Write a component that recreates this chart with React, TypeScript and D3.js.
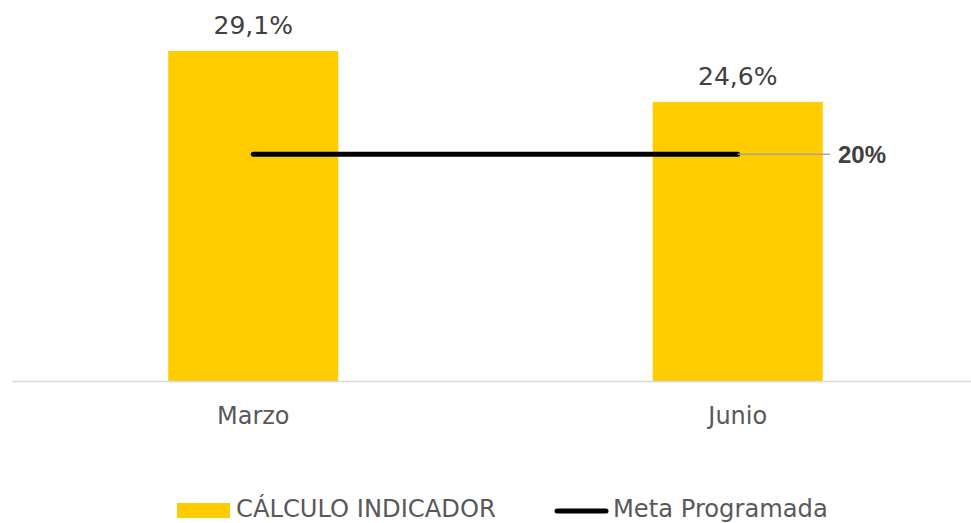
import React from "react";
import * as d3 from "d3";

const categories = ["Marzo", "Junio"];
const indicadorValues = [29.1, 24.6];
const metaValues = [20, 20];
const barLabels = ["29,1%", "24,6%"];
const metaLabel = "20%";
const legendLabels = ["CÁLCULO INDICADOR", "Meta Programada"];

const W = 971;
const H = 523;

export default function App() {
  const x = d3
    .scaleBand<string>()
    .domain(categories)
    .range([11, 980])
    .paddingInner(0.649)
    .paddingOuter(0.3245);
  const y = d3.scaleLinear().domain([0, 30]).range([381, 40.8]);
  const cx = (c: string) => (x(c) as number) + x.bandwidth() / 2;
  const line = d3
    .line<number>()
    .x((_, i) => cx(categories[i]))
    .y((d) => y(d));
  const lastIdx = categories.length - 1;
  const font = "'DejaVu Sans', Verdana, sans-serif";

  return (
    <svg
      width={W}
      height={H}
      style={{ position: "absolute", left: 0, top: 0, display: "block", background: "#fff" }}
    >
      {categories.map((c, i) => (
        <rect
          key={c}
          x={x(c)}
          y={y(indicadorValues[i])}
          width={x.bandwidth()}
          height={y(0) - y(indicadorValues[i])}
          fill="#FFCC00"
        />
      ))}
      <line x1={12} x2={971} y1={y(0) + 0.5} y2={y(0) + 0.5} stroke="#D9D9D9" strokeWidth={1.5} />
      {categories.map((c, i) => (
        <text
          key={c + "l"}
          x={cx(c)}
          y={y(indicadorValues[i]) - 17}
          textAnchor="middle"
          fontFamily={font}
          fontSize={25}
          fill="#404040"
        >
          {barLabels[i]}
        </text>
      ))}
      {categories.map((c) => (
        <text
          key={c + "c"}
          x={cx(c)}
          y={424}
          textAnchor="middle"
          fontFamily={font}
          fontSize={24}
          fill="#595959"
        >
          {c}
        </text>
      ))}
      <path d={line(metaValues) || ""} fill="none" stroke="#000" strokeWidth={5} strokeLinecap="round" />
      <line
        x1={cx(categories[lastIdx])}
        x2={830}
        y1={y(metaValues[lastIdx])}
        y2={y(metaValues[lastIdx])}
        stroke="#A6A6A6"
        strokeWidth={1.5}
      />
      <text
        x={838}
        y={y(metaValues[lastIdx]) + 9}
        fontFamily="'Liberation Sans', Arial, sans-serif"
        fontWeight="bold"
        fontSize={24}
        fill="#404040"
      >
        {metaLabel}
      </text>
      {/* legend */}
      <rect x={177} y={503} width={53} height={15} fill="#FFCC00" />
      <text x={236} y={517} fontFamily={font} fontSize={24.2} fill="#595959">
        {legendLabels[0]}
      </text>
      <line x1={557} x2={606} y1={511} y2={511} stroke="#000" strokeWidth={5} strokeLinecap="round" />
      <text x={613} y={517} fontFamily={font} fontSize={24.2} fill="#595959">
        {legendLabels[1]}
      </text>
    </svg>
  );
}
